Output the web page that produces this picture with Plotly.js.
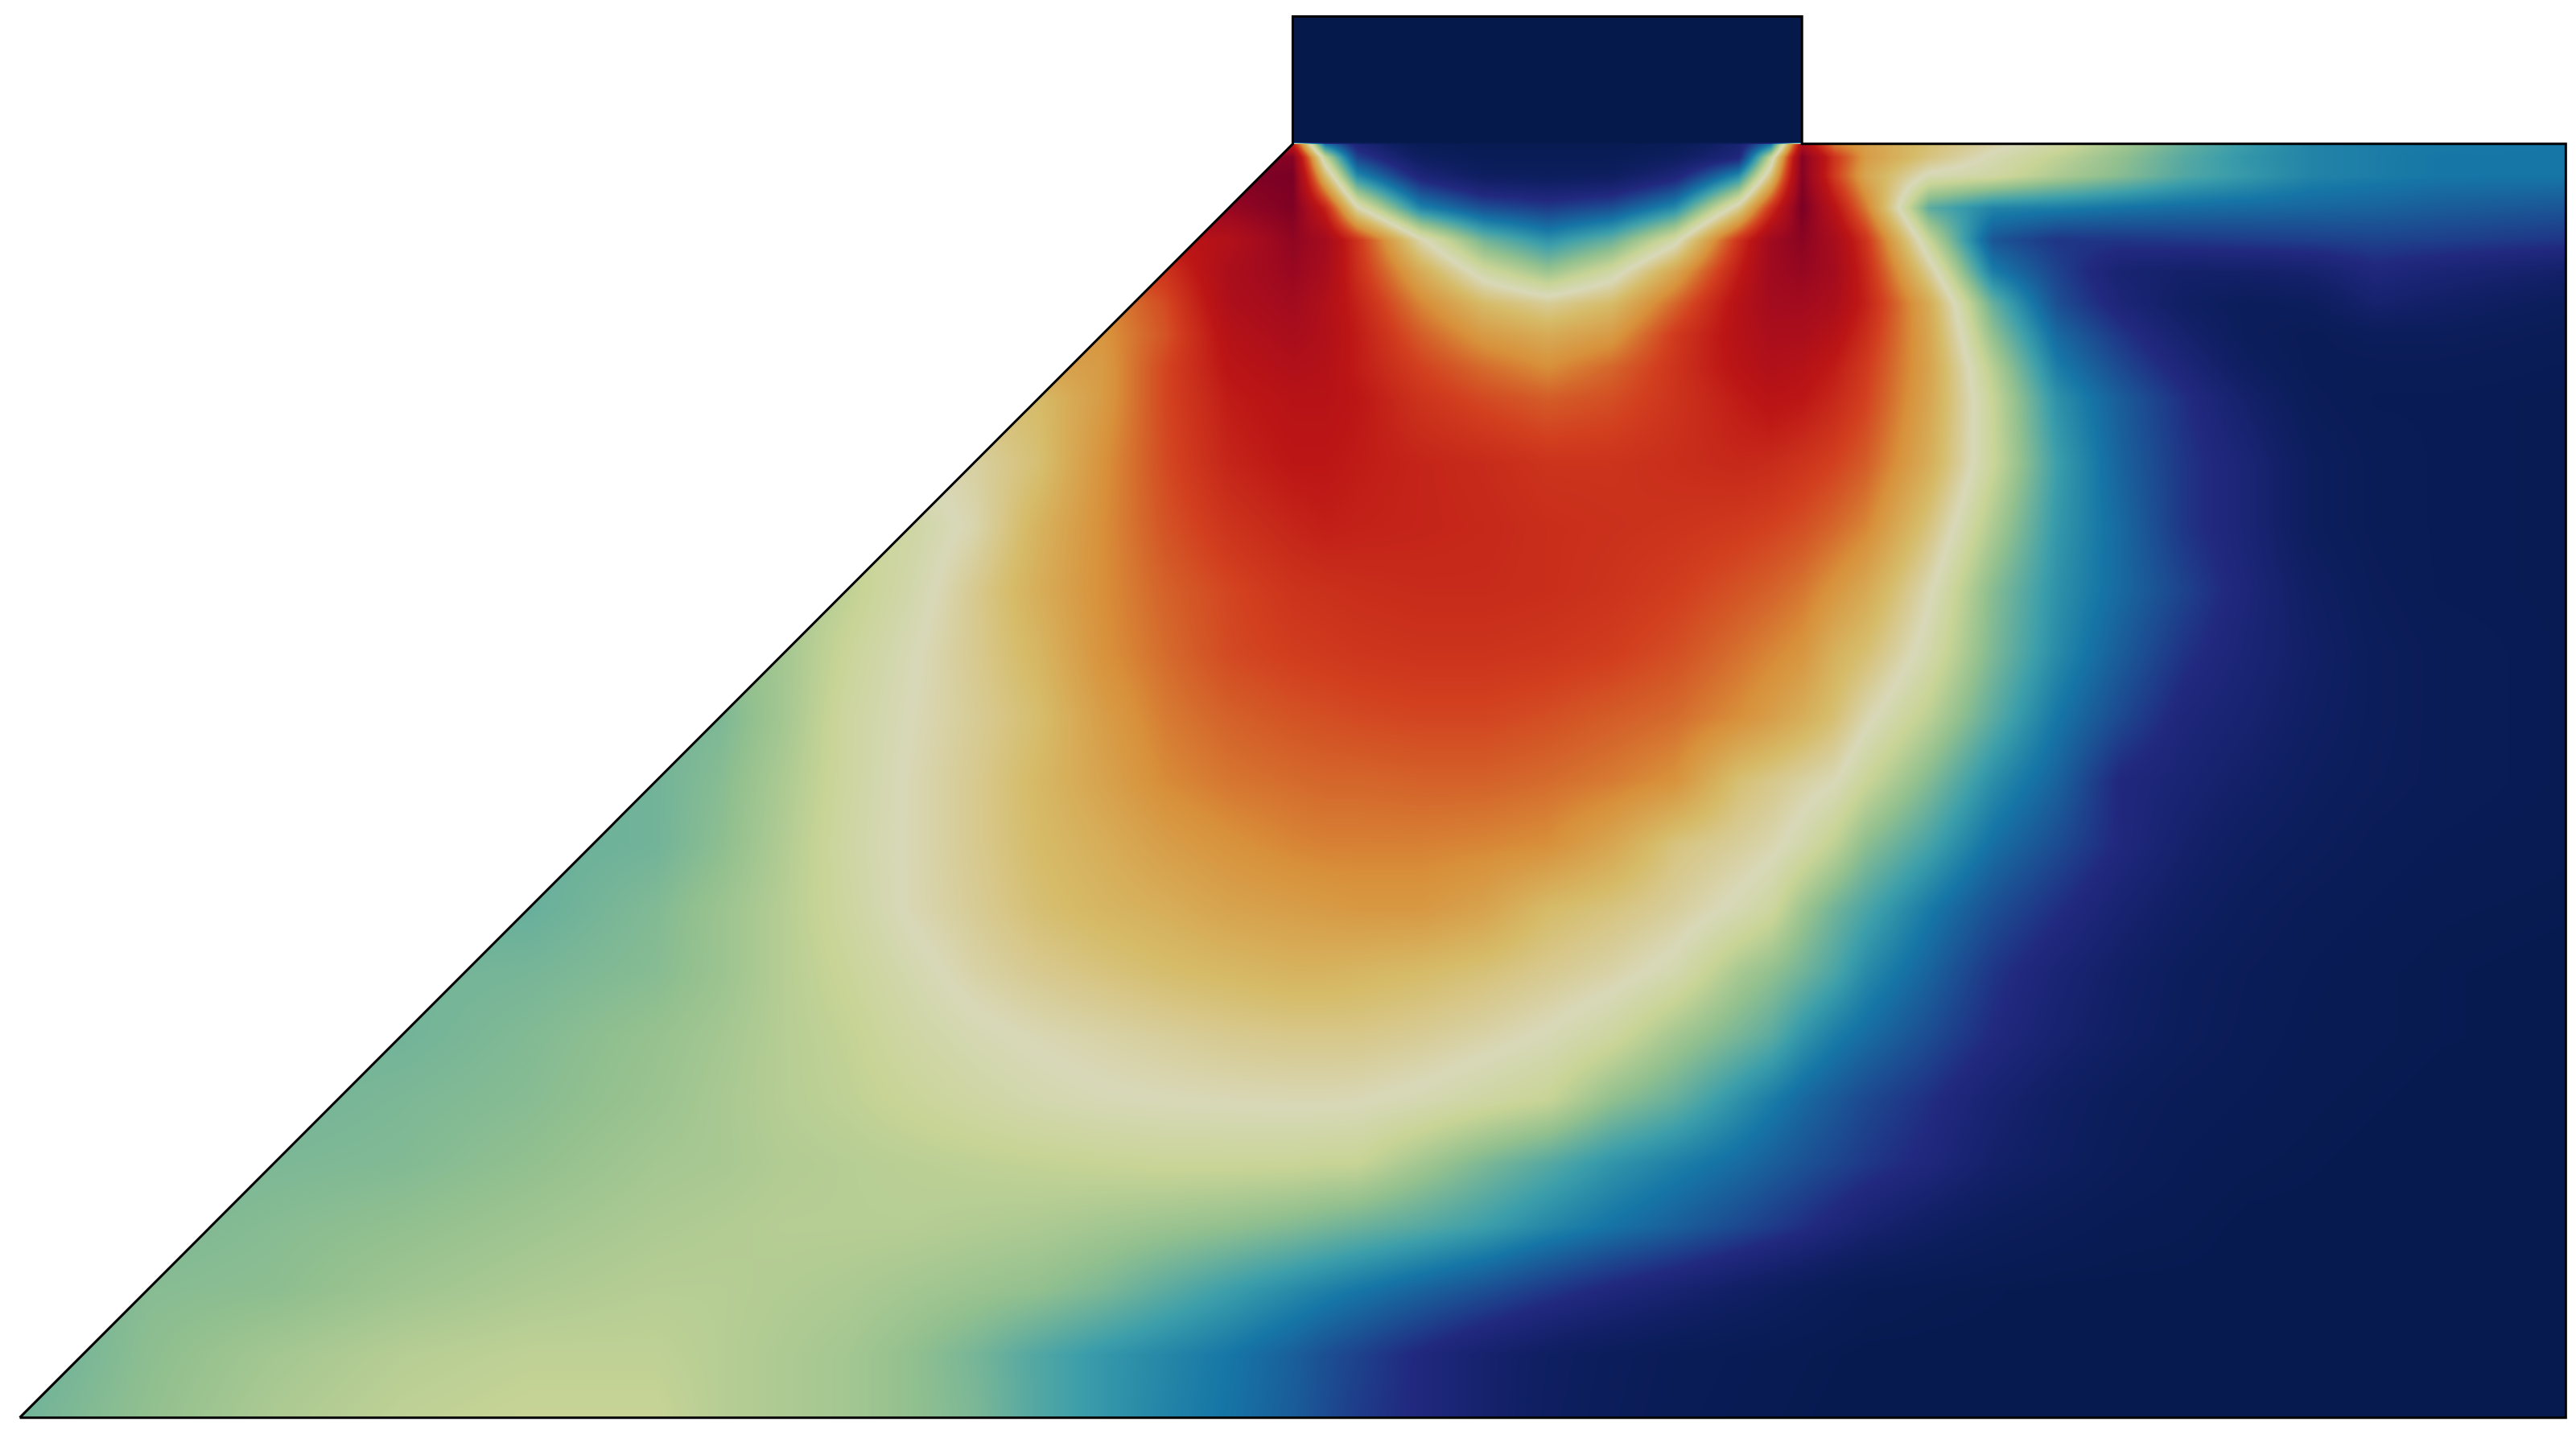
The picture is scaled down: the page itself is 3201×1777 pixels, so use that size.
<!DOCTYPE html>
<html>
<head>
<meta charset="utf-8">
<script src="https://cdn.plot.ly/plotly-3.0.1.min.js"></script>
<style>
  html, body { margin: 0; padding: 0; background: #fff; }
  #plot { width: 3201px; height: 1777px; }
</style>
</head>
<body>
<div id="plot"></div>
<script>
// model coordinates: slope foot at 0,0 - footing sits on the surface at y=10
const xs = [0,1,2,3,4,5,5.5,6,6.5,7,7.5,8,8.5,9,9.5,10,10.25,10.5,11,11.5,12,12.5,13,13.5,13.75,14,14.25,14.5,15,15.5,16,16.5,17,17.5,18,18.5,19,20];
const ys = [0,0.5,1,1.5,2,2.5,3,3.5,4,4.5,5,5.5,6,6.5,7,7.5,8,8.25,8.5,8.75,9,9.25,9.5,9.75,9.9,10,10.02,11];

// field values, one row per y
const r0000 = [.41,.44,.47,.49,.50,.50,.48,.47,.46,.44,.42,.38,.35,.32,.295,.26,.235,.21,.175,.13,.09,.065,.045,.035,.03,.025,.02,.02,.02,.02,.02,.02,.02,.02,.02,.02,.02,.02];
const r0050 = [.40,.435,.46,.48,.49,.49,.48,.47,.46,.44,.415,.38,.35,.325,.30,.265,.24,.22,.175,.13,.095,.07,.05,.04,.035,.03,.025,.02,.02,.02,.02,.02,.02,.02,.02,.02,.02,.02];
const r0100 = [.40,.43,.435,.455,.47,.48,.48,.475,.47,.46,.45,.44,.42,.39,.36,.33,.315,.30,.27,.24,.205,.17,.14,.105,.09,.07,.055,.04,.03,.025,.02,.02,.02,.02,.02,.02,.02,.02];
const r0150 = [.40,.42,.43,.44,.455,.47,.475,.48,.48,.48,.475,.47,.46,.45,.44,.425,.415,.405,.385,.36,.325,.295,.265,.23,.21,.19,.165,.14,.10,.07,.05,.035,.03,.02,.02,.02,.02,.02];
const r0200 = [.40,.41,.42,.425,.44,.46,.465,.475,.48,.485,.49,.495,.50,.505,.505,.505,.50,.50,.46,.42,.385,.345,.315,.285,.265,.245,.225,.205,.17,.12,.09,.06,.04,.03,.025,.02,.02,.02];
const r0250 = [.40,.41,.41,.42,.43,.45,.465,.48,.49,.505,.52,.535,.545,.55,.553,.555,.555,.553,.54,.52,.50,.44,.40,.34,.31,.28,.255,.23,.19,.14,.10,.07,.05,.04,.03,.025,.02,.02];
const r0300 = [.40,.41,.41,.41,.425,.445,.46,.48,.495,.52,.54,.555,.565,.575,.585,.59,.59,.59,.58,.565,.545,.515,.46,.415,.39,.345,.31,.285,.235,.18,.135,.10,.07,.05,.035,.03,.025,.02];
const r0350 = [.40,.40,.40,.41,.415,.43,.45,.48,.505,.535,.565,.585,.60,.615,.625,.635,.635,.63,.62,.605,.585,.565,.535,.465,.44,.41,.375,.33,.27,.20,.15,.11,.075,.055,.04,.03,.025,.02];
const r0400 = [.40,.40,.40,.40,.40,.425,.45,.48,.515,.555,.58,.61,.63,.645,.665,.675,.68,.685,.685,.665,.62,.60,.575,.54,.515,.455,.41,.375,.305,.24,.19,.14,.10,.07,.05,.04,.03,.025];
const r0450 = [.40,.40,.40,.40,.40,.41,.435,.475,.52,.555,.585,.62,.645,.675,.695,.71,.715,.715,.715,.71,.70,.66,.60,.575,.56,.53,.49,.435,.37,.29,.235,.175,.125,.09,.07,.05,.04,.03];
const r0500 = [.40,.40,.40,.40,.40,.41,.43,.47,.515,.555,.585,.625,.665,.705,.725,.735,.74,.74,.745,.745,.735,.72,.695,.61,.59,.57,.552,.505,.425,.335,.27,.175,.145,.115,.085,.065,.05,.035];
const r0550 = [.41,.41,.41,.41,.41,.41,.42,.46,.515,.55,.58,.615,.675,.72,.745,.76,.765,.77,.775,.775,.765,.75,.735,.70,.675,.645,.61,.56,.485,.39,.30,.23,.165,.135,.10,.07,.05,.035];
const r0600 = [.43,.43,.43,.43,.43,.43,.43,.46,.505,.545,.585,.63,.695,.735,.77,.785,.79,.795,.80,.80,.795,.785,.765,.73,.71,.69,.64,.61,.53,.42,.33,.26,.195,.15,.11,.07,.05,.035];
const r0650 = [.45,.45,.45,.45,.45,.45,.45,.46,.49,.53,.585,.645,.70,.745,.775,.80,.805,.81,.815,.815,.81,.80,.785,.76,.745,.725,.69,.655,.555,.43,.34,.28,.22,.16,.10,.06,.04,.035];
const r0700 = [.50,.50,.50,.50,.50,.50,.50,.50,.50,.52,.56,.635,.70,.76,.80,.825,.835,.83,.825,.82,.81,.805,.80,.79,.78,.765,.74,.71,.60,.47,.35,.28,.20,.15,.08,.05,.04,.035];
const r0750 = [.55,.55,.55,.55,.55,.55,.55,.55,.55,.55,.57,.61,.695,.77,.825,.85,.85,.84,.825,.815,.80,.80,.81,.82,.815,.80,.78,.75,.645,.505,.36,.27,.20,.15,.08,.05,.04,.035];
const r0800 = [.60,.60,.60,.60,.60,.60,.60,.60,.60,.60,.60,.62,.68,.775,.84,.865,.865,.85,.80,.77,.75,.765,.80,.84,.86,.85,.82,.78,.66,.50,.34,.26,.19,.12,.06,.04,.04,.035];
const r0825 = [.66,.66,.66,.66,.66,.66,.66,.66,.66,.66,.66,.66,.68,.775,.855,.885,.875,.84,.78,.735,.70,.74,.80,.86,.885,.87,.84,.79,.665,.48,.31,.23,.16,.09,.05,.05,.05,.04];
const r0850 = [.68,.68,.68,.68,.68,.68,.68,.68,.68,.68,.68,.68,.69,.76,.87,.905,.885,.84,.75,.68,.65,.68,.79,.87,.90,.90,.87,.81,.66,.44,.28,.20,.13,.07,.05,.07,.07,.05];
const r0875 = [.70,.70,.70,.70,.70,.70,.70,.70,.70,.70,.70,.70,.70,.77,.89,.925,.885,.83,.71,.62,.58,.62,.74,.87,.92,.925,.90,.83,.65,.40,.24,.16,.10,.07,.08,.13,.11,.07];
const r0900 = [.75,.75,.75,.75,.75,.75,.75,.75,.75,.75,.75,.75,.75,.80,.90,.945,.91,.81,.65,.52,.45,.52,.66,.84,.93,.95,.92,.82,.58,.31,.22,.14,.12,.12,.13,.17,.15,.12];
const r0925 = [.85,.85,.85,.85,.85,.85,.85,.85,.85,.85,.85,.85,.85,.85,.88,.96,.92,.80,.56,.41,.34,.40,.53,.80,.93,.97,.91,.80,.50,.25,.20,.20,.205,.21,.215,.22,.215,.20];
const r0950 = [.93,.93,.93,.93,.93,.93,.93,.93,.93,.93,.93,.93,.93,.93,.95,.99,.83,.56,.32,.24,.21,.24,.33,.58,.80,1,.86,.72,.39,.32,.31,.295,.285,.28,.275,.27,.26,.25];
const r0975 = [.97,.97,.97,.97,.97,.97,.97,.97,.97,.97,.97,.97,.97,.98,.99,1,.62,.33,.16,.09,.08,.09,.16,.33,.60,.98,.79,.66,.54,.52,.47,.43,.38,.35,.32,.31,.30,.30];
const r0990 = [.97,.97,.97,.97,.97,.97,.97,.97,.97,.97,.97,.97,.97,.97,.98,.98,.50,.22,.09,.05,.05,.05,.09,.17,.50,.98,.80,.68,.60,.54,.49,.44,.385,.345,.32,.31,.30,.30];
const r1000 = [.97,.97,.97,.97,.97,.97,.97,.97,.97,.97,.97,.97,.97,.97,.95,.85,.30,.16,.05,.03,.03,.03,.05,.14,.30,.90,.72,.67,.61,.565,.52,.46,.40,.355,.32,.31,.305,.30];
const r1002 = [0,0,0,0,0,0,0,0,0,0,0,0,0,0,0,0,0,0,0,0,0,0,0,0,0,0,0,0,0,0,0,0,0,0,0,0,0,0];
const r1100 = [0,0,0,0,0,0,0,0,0,0,0,0,0,0,0,0,0,0,0,0,0,0,0,0,0,0,0,0,0,0,0,0,0,0,0,0,0,0];
const zRows = [r0000,r0050,r0100,r0150,r0200,r0250,r0300,r0350,r0400,r0450,r0500,r0550,r0600,r0650,r0700,r0750,r0800,r0825,r0850,r0875,r0900,r0925,r0950,r0975,r0990,r1000,r1002,r1100];

// outline of slope + footing
const outlineX = [0,10,10,14,14,20,20,0];
const outlineY = [0,10,11,11,10,10,0,0];

// white covers for everything outside the domain
const maskX = [-1,0,10,10,-1,-1,null,14,21,21,14,14,null,9.9,14.1,14.1,9.9,9.9,null,-1,21,21,-1,-1,null,20,21,21,20,20];
const maskY = [0,0,10,12,12,0,null,10,10,12,12,10,null,11,11,12,12,11,null,-1,-1,0,0,-1,null,-1,-1,12,12,-1];

const colors = [
  [0.00, "#05194b"], [0.10, "#0f1f62"], [0.18, "#21287f"], [0.30, "#1676a6"],
  [0.36, "#3c9eaa"], [0.44, "#92c08f"], [0.50, "#c8d496"], [0.55, "#d8d8b8"],
  [0.62, "#d6bb68"], [0.70, "#d8903a"], [0.74, "#d4662b"], [0.78, "#d2401f"],
  [0.85, "#bc1515"], [0.93, "#a00a1f"], [1.00, "#7a0024"],
];

Plotly.newPlot("plot", [
  {
    type: "heatmap", x: xs, y: ys, z: zRows,
    zmin: 0, zmax: 1, zsmooth: "best",
    colorscale: colors, showscale: false, hoverinfo: "skip",
  },
  {
    type: "scatter", mode: "lines", x: maskX, y: maskY,
    fill: "toself", fillcolor: "#ffffff", line: { width: 0, color: "#ffffff" },
    hoverinfo: "skip", showlegend: false,
  },
  {
    type: "scatter", mode: "lines", x: outlineX, y: outlineY,
    line: { color: "#000000", width: 3 }, hoverinfo: "skip", showlegend: false,
  },
], {
  width: 3201, height: 1777,
  margin: { l: 0, r: 0, t: 0, b: 0 },
  paper_bgcolor: "#ffffff", plot_bgcolor: "#ffffff",
  xaxis: { range: [-0.155, 20.08], visible: false, fixedrange: true },
  yaxis: { range: [-0.097, 11.13], visible: false, fixedrange: true },
  showlegend: false,
}, { displayModeBar: false, staticPlot: true });
</script>
</body>
</html>
